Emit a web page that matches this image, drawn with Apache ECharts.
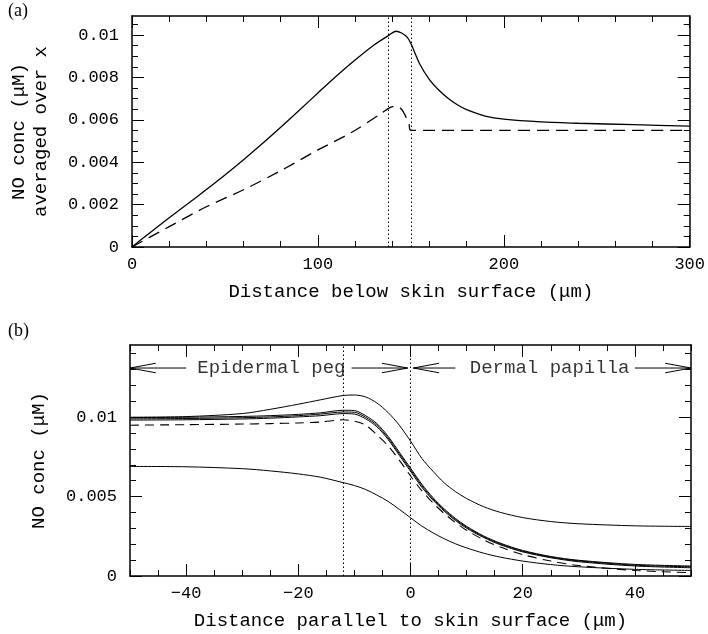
<!DOCTYPE html>
<html>
<head>
<meta charset="utf-8">
<script src="https://cdn.jsdelivr.net/npm/echarts@6/dist/echarts.min.js"></script>
<style>
html, body { margin: 0; padding: 0; background: #fff; }
#chart { width: 708px; height: 634px; }
</style>
</head>
<body>
<div id="chart"></div>
<script>
// ---- panel (a): concentration vs depth, averaged over x ----
var depthA     = [0, 10, 20, 30, 40, 50, 60, 70, 80, 90, 100, 110, 120, 130, 138, 142, 145, 148, 150, 155, 160, 165, 170, 175, 180, 190, 200, 220, 240, 270, 300];
var concA      = [0, 0.0007, 0.00138, 0.00204, 0.00271, 0.0034, 0.00412, 0.00487, 0.00565, 0.00645, 0.00727, 0.00807, 0.00882, 0.00952, 0.00998, 0.01018, 0.0101, 0.0099, 0.0096, 0.0086, 0.0079, 0.00741, 0.00702, 0.00671, 0.00648, 0.00618, 0.00603, 0.0059, 0.00584, 0.00577, 0.0057];
var depthDashA = [0, 20, 40, 60, 80, 100, 118, 134, 138, 142, 145, 147, 149, 150, 200, 250, 300];
var concDashA  = [0, 0.00096, 0.0019, 0.0027, 0.0036, 0.00458, 0.0054, 0.0063, 0.00654, 0.00665, 0.0065, 0.0062, 0.0058, 0.0055, 0.0055, 0.0055, 0.0055];
var boundsA    = [138, 150];
var xTicksA    = [0, 100, 200, 300];
var yTicksA    = [0, 0.002, 0.004, 0.006, 0.008, 0.01];

// ---- panel (b): concentration vs lateral distance ----
var distB   = [-50, -40, -30, -25, -20, -16, -12, -10, -8, -6, -4, -2, 0, 2, 4, 6, 8, 10, 13, 16, 20, 25, 30, 40, 50];
var concB1  = [0.0100, 0.01004, 0.01023, 0.0105, 0.01082, 0.0111, 0.01137, 0.0114, 0.01128, 0.0109, 0.0103, 0.0095, 0.0085, 0.00742, 0.0066, 0.00587, 0.00532, 0.00488, 0.00437, 0.00401, 0.00368, 0.00343, 0.00329, 0.00316, 0.00312];
var concB2  = [0.00998, 0.0100, 0.01005, 0.0101, 0.01018, 0.01028, 0.01044, 0.01042, 0.0101, 0.0096, 0.0088, 0.0078, 0.0068, 0.00579, 0.00494, 0.00423, 0.00363, 0.00313, 0.00253, 0.00207, 0.00161, 0.00123, 0.00099, 0.00073, 0.00063];
var concB3  = [0.0099, 0.00992, 0.00997, 0.01002, 0.0101, 0.0102, 0.01033, 0.01031, 0.0100, 0.0095, 0.0087, 0.0077, 0.0067, 0.0057, 0.00486, 0.00416, 0.00357, 0.00307, 0.00248, 0.00202, 0.00157, 0.00119, 0.00095, 0.00068, 0.00058];
var concB4  = [0.00982, 0.00984, 0.00989, 0.00994, 0.01002, 0.0101, 0.01023, 0.0102, 0.0099, 0.0094, 0.0086, 0.0076, 0.0066, 0.0056, 0.00478, 0.00409, 0.0035, 0.00301, 0.00243, 0.00197, 0.00152, 0.00115, 0.0009, 0.00063, 0.00052];
var concB5  = [0.0069, 0.00688, 0.00676, 0.00662, 0.00643, 0.00622, 0.00588, 0.0057, 0.00545, 0.0051, 0.0047, 0.0042, 0.00367, 0.00315, 0.00272, 0.00235, 0.00203, 0.00177, 0.00144, 0.00119, 0.00094, 0.00072, 0.00058, 0.00042, 0.00035];
var concDashB = [0.0095, 0.00953, 0.00957, 0.0096, 0.00964, 0.0097, 0.00984, 0.00975, 0.0095, 0.0089, 0.0082, 0.0073, 0.0063, 0.00538, 0.0046, 0.00394, 0.00337, 0.00288, 0.00229, 0.00182, 0.00135, 0.00094, 0.00066, 0.00035, 0.00021];
var boundsB = [-12, 0];
var xTicksB = [-40, -20, 0, 20, 40];
var yTicksB = [0, 0.005, 0.01];
// annotated regions of (b)
var regionsB = [
    { from: -50, to: -0.5, shaft: [-40, -10.5], mid: -24.8, text: 'Epidermal peg' },
    { from: 0.5, to: 50, shaft: [8, 40], mid: 24.8, text: 'Dermal papilla' }
];
var regionY = 0.0131;

var FONT = 'Liberation Mono';

function zip(xs, ys) {
    return xs.map(function (x, i) { return [x, ys[i]]; });
}
function steps(a, b, s) {
    var r = [];
    for (var i = 0; a + i * s <= b + s * 1e-6; i++) r.push(+(a + i * s).toFixed(6));
    return r;
}
function fmt(v) {
    return String(+(+v).toPrecision(6)).replace('-', '\u2212');
}

// one side of a frame: major axis (line, long ticks, labels) + minor axis (short ticks)
function side(gridIndex, position, min, max, majors, minors, labels, margin, extra) {
    var major = {
        type: 'value', gridIndex: gridIndex, position: position, min: min, max: max,
        splitLine: { show: false },
        axisLine: { show: true, onZero: false, lineStyle: { color: '#000', width: 1.5 } },
        axisTick: { show: true, inside: true, length: 12, customValues: majors, lineStyle: { color: '#000', width: 1 } },
        axisLabel: labels ? {
            show: true, customValues: majors, color: '#000', fontFamily: FONT, fontSize: 17,
            margin: margin, formatter: fmt
        } : { show: false }
    };
    if (extra) for (var k in extra) major[k] = extra[k];
    var minor = {
        type: 'value', gridIndex: gridIndex, position: position, min: min, max: max,
        splitLine: { show: false },
        axisLine: { show: false, onZero: false },
        axisTick: { show: true, inside: true, length: 6, customValues: minors, lineStyle: { color: '#000', width: 1 } },
        axisLabel: { show: false }
    };
    return [major, minor];
}

var nameStyle = { color: '#000', fontFamily: FONT, fontSize: 19, lineHeight: 22 };

var xAxes = [].concat(
    side(0, 'bottom', 0, 300, xTicksA, steps(0, 300, 20), true, 9, {
        name: 'Distance below skin surface (\u03bcm)', nameLocation: 'middle', nameGap: 34, nameTextStyle: nameStyle
    }),
    side(0, 'top', 0, 300, xTicksA, steps(0, 300, 20), false),
    side(1, 'bottom', -50, 50, xTicksB, steps(-50, 50, 5), true, 9, {
        name: 'Distance parallel to skin surface (\u03bcm)', nameLocation: 'middle', nameGap: 34, nameTextStyle: nameStyle
    }),
    side(1, 'top', -50, 50, xTicksB, steps(-50, 50, 5), false)
);
var yAxes = [].concat(
    side(0, 'left', 0, 0.0109, yTicksA, steps(0, 0.0105, 0.0005), true, 13, {
        name: 'NO conc (\u03bcM)\naveraged over x', nameLocation: 'middle', nameGap: 80, nameTextStyle: nameStyle
    }),
    side(0, 'right', 0, 0.0109, yTicksA, steps(0, 0.0105, 0.0005), false),
    side(1, 'left', 0, 0.01455, yTicksB, steps(0, 0.014, 0.001), true, 13, {
        name: 'NO conc (\u03bcM)', nameLocation: 'middle', nameGap: 80, nameTextStyle: nameStyle
    }),
    side(1, 'right', 0, 0.01455, yTicksB, steps(0, 0.014, 0.001), false)
);

function curve(grid, data, width, dashed) {
    return {
        type: 'line', xAxisIndex: grid * 4, yAxisIndex: grid * 4, data: data,
        showSymbol: false, smooth: 0.3, silent: true, animation: false,
        lineStyle: { color: '#000', width: width, type: dashed ? dashed : 'solid' }
    };
}
function bounds(grid, xs) {
    return {
        type: 'line', xAxisIndex: grid * 4, yAxisIndex: grid * 4, data: [], silent: true,
        markLine: {
            symbol: 'none', silent: true, animation: false, label: { show: false },
            lineStyle: { color: '#000', width: 1, type: [1.5, 2.5] },
            data: xs.map(function (x) { return { xAxis: x }; })
        }
    };
}
function seg(pts) {
    return {
        type: 'line', xAxisIndex: 4, yAxisIndex: 4, data: pts, showSymbol: false,
        silent: true, animation: false, lineStyle: { color: '#000', width: 1 }
    };
}

var series = [
    curve(0, zip(depthA, concA), 1.3),
    curve(0, zip(depthDashA, concDashA), 1.3, [12, 7]),
    bounds(0, boundsA),
    curve(1, zip(distB, concB1), 1),
    curve(1, zip(distB, concB2), 1),
    curve(1, zip(distB, concB3), 1),
    curve(1, zip(distB, concB4), 1),
    curve(1, zip(distB, concB5), 1),
    curve(1, zip(distB, concDashB), 1.1, [9, 6]),
    bounds(1, boundsB)
];

// arrows marking the regions in (b)
var hw = 4.6, hh = 0.0003;
regionsB.forEach(function (r) {
    series.push(seg([[r.from + hw, regionY + hh], [r.from, regionY], [r.from + hw, regionY - hh]]));
    series.push(seg([[r.from, regionY], [r.shaft[0], regionY]]));
    series.push(seg([[r.shaft[1], regionY], [r.to, regionY]]));
    series.push(seg([[r.to - hw, regionY + hh], [r.to, regionY], [r.to - hw, regionY - hh]]));
    series.push({
        type: 'scatter', xAxisIndex: 4, yAxisIndex: 4, symbolSize: 0, silent: true, animation: false,
        data: [{ value: [r.mid, regionY], name: r.text }],
        label: { show: true, position: 'inside', formatter: '{b}', color: '#000', fontFamily: FONT, fontSize: 19 }
    });
});

var chart = echarts.init(document.getElementById('chart'));
chart.setOption({
    backgroundColor: '#fff',
    animation: false,
    grid: [
        { left: 130, top: 16, width: 561, height: 231 },
        { left: 130, top: 345, width: 561, height: 231 }
    ],
    xAxis: xAxes,
    yAxis: yAxes,
    graphic: [
        { type: 'text', left: 8, top: 2, style: { text: '(a)', fill: '#000', font: '18px "Liberation Serif"' } },
        { type: 'text', left: 8, top: 322, style: { text: '(b)', fill: '#000', font: '18px "Liberation Serif"' } }
    ],
    series: series
});
</script>
</body>
</html>
